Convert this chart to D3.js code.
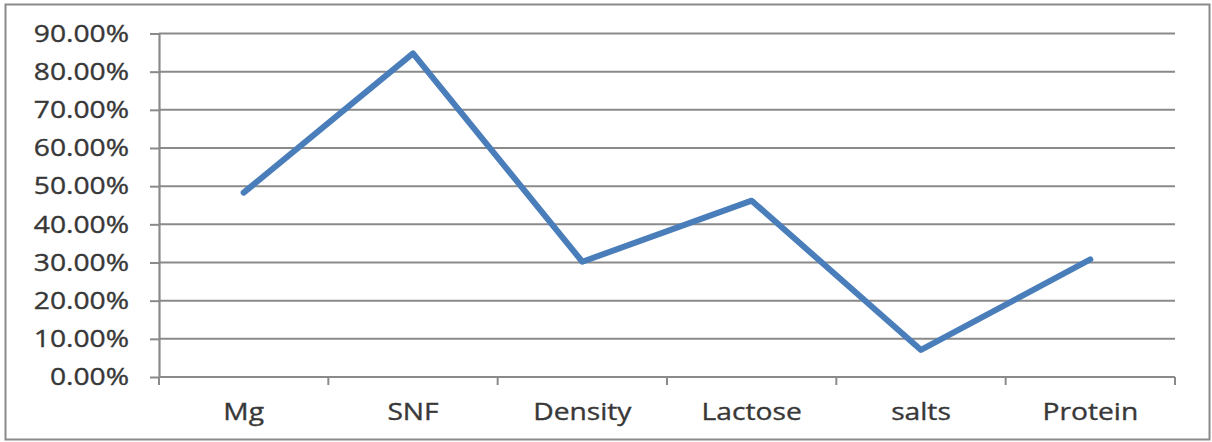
<!DOCTYPE html>
<html><head><meta charset="utf-8">
<script src="https://cdn.jsdelivr.net/npm/d3@7"></script>
<style>body{margin:0;background:#fff}svg{display:block}text{font-family:"Open Sans",sans-serif;fill:#383838;stroke:#383838;stroke-width:0.35}</style>
</head><body>
<svg id="c" width="1212" height="442"></svg>
<script>
const categories = ["Mg","SNF","Density","Lactose","salts","Protein"];
const values = [0.483,0.848,0.302,0.462,0.071,0.308];
const yTicks = [0,0.1,0.2,0.3,0.4,0.5,0.6,0.7,0.8,0.9];

const svg = d3.select("#c");
svg.append("rect").attr("x",5.5).attr("y",4.5).attr("width",1204).attr("height",435)
  .attr("fill","#fff").attr("stroke","#8a8a8a").attr("stroke-width",2);

const m = {l:159,r:1175,t:33.5,b:377};
const x = d3.scaleBand().domain(categories).range([m.l,m.r]);
const y = d3.scaleLinear().domain([0,0.9]).range([m.b,m.t]);
const fmt = d3.format(".2%");
const FS = 23.5, SX = 1.2;

// gridlines
svg.append("g").selectAll("line").data(yTicks.slice(1)).join("line")
  .attr("x1",m.l).attr("x2",m.r).attr("y1",d=>y(d)).attr("y2",d=>y(d))
  .attr("stroke","#8a8a8a").attr("stroke-width",2);

// y axis
const ya = svg.append("g").attr("transform",`translate(${m.l},0)`)
  .call(d3.axisLeft(y).tickValues(yTicks).tickFormat("").tickSize(9).tickSizeOuter(0));
ya.select(".domain").attr("stroke","#8a8a8a").attr("stroke-width",2.2);
ya.selectAll(".tick line").attr("stroke","#8a8a8a").attr("stroke-width",2);
svg.append("g").selectAll("text").data(yTicks).join("text")
  .attr("transform",d=>`translate(${m.l-30},${y(d)}) scale(${SX},1)`)
  .attr("text-anchor","end").attr("dy","0.35em").attr("font-size",FS).text(d=>fmt(d));

// x axis
const xa = svg.append("g").attr("transform",`translate(0,${m.b})`);
xa.append("line").attr("x1",m.l).attr("x2",m.r).attr("stroke","#8a8a8a").attr("stroke-width",2.2);
const bounds = categories.map(c=>x(c)).concat([m.r]);
xa.selectAll("line.t").data(bounds).join("line").attr("class","t")
  .attr("x1",d=>d).attr("x2",d=>d).attr("y1",0).attr("y2",8)
  .attr("stroke","#8a8a8a").attr("stroke-width",2);
xa.selectAll("text").data(categories).join("text")
  .attr("transform",d=>`translate(${x(d)+x.bandwidth()/2},43) scale(${SX},1)`)
  .attr("text-anchor","middle").attr("font-size",FS).text(d=>d);

// line
const line = d3.line().x((d,i)=>x(categories[i])+x.bandwidth()/2).y(d=>y(d));
svg.append("path").datum(values).attr("d",line).attr("fill","none")
  .attr("stroke","#4a7ebb").attr("stroke-width",6).attr("stroke-linejoin","round").attr("stroke-linecap","round");
</script>
</body></html>
